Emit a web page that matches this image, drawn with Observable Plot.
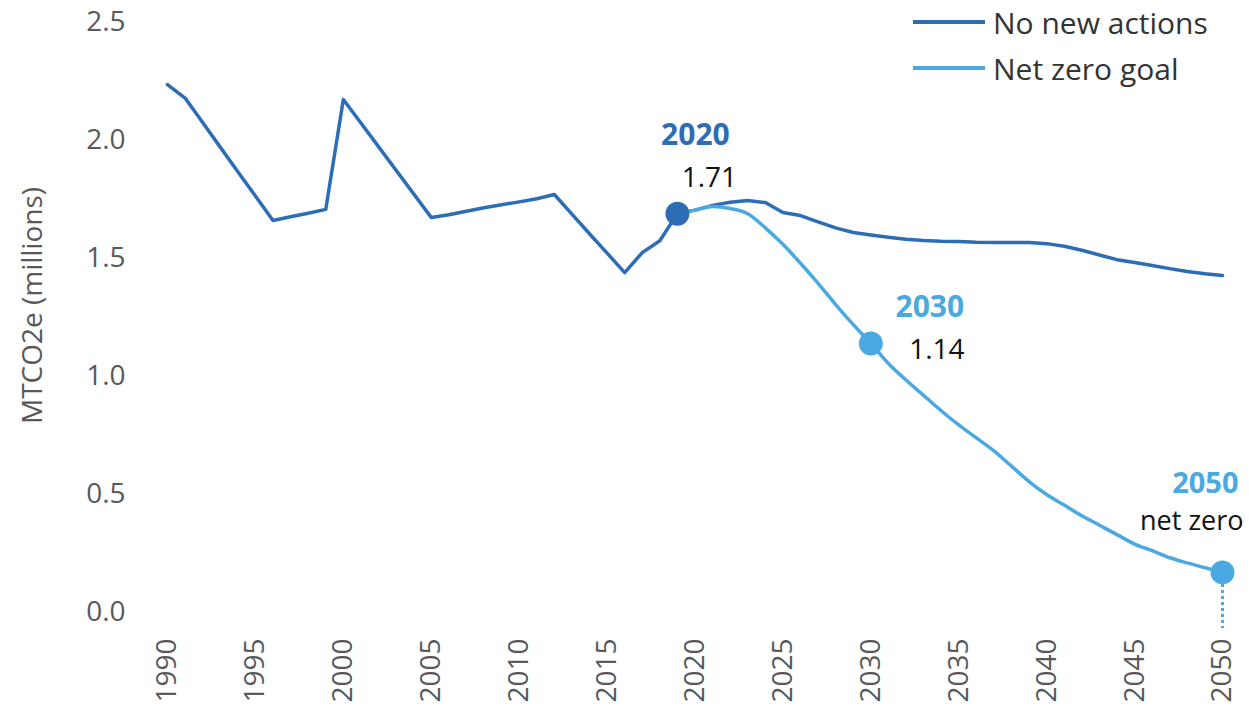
<!DOCTYPE html>
<html>
<head>
<meta charset="utf-8">
<script src="https://cdn.jsdelivr.net/npm/d3@7"></script>
<script src="https://cdn.jsdelivr.net/npm/@observablehq/plot@0.6"></script>
<style>
  body { margin: 0; background: #fff; font-family: "Open Sans", sans-serif; }
  #wrap { position: relative; width: 1249px; height: 711px; }
  .legend { position: absolute; left: 913px; font-size: 30px; color: #333; display: flex; align-items: center; }
  .legend span.sw { display: inline-block; width: 72px; height: 4px; margin-right: 8px; }
</style>
</head>
<body>
<div id="wrap"></div>
<script>
const darkBlue = "#2d6db5";
const lightBlue = "#4aa9e0";

const seriesNames = ["No new actions", "Net zero goal"];
const startNoNew = 1990;
const noNewValues = [
  2.237, 2.18, 2.076, 1.972, 1.868, 1.765, 1.661, 1.677, 1.692, 1.708,
  2.174, 2.074, 1.974, 1.874, 1.774, 1.674, 1.685, 1.70, 1.715, 1.728,
  1.74, 1.753, 1.771, 1.688, 1.605, 1.523, 1.44, 1.525, 1.575, 1.69,
  1.705, 1.725, 1.738, 1.746, 1.737, 1.695, 1.682, 1.655, 1.63, 1.61,
  1.60, 1.59, 1.582, 1.576, 1.573, 1.572, 1.569, 1.568, 1.568, 1.568,
  1.563, 1.552, 1.535, 1.515, 1.495, 1.483, 1.47, 1.457, 1.445, 1.435,
  1.428
];
const startNetZero = 2019;
const netZeroValues = [
  1.69, 1.705, 1.72, 1.712, 1.69, 1.63, 1.56, 1.48, 1.395, 1.305,
  1.22, 1.14, 1.055, 0.985, 0.92, 0.855, 0.795, 0.74, 0.685, 0.62,
  0.555, 0.50, 0.455, 0.41, 0.37, 0.33, 0.29, 0.262, 0.232, 0.21,
  0.19, 0.17
];
const xTicks = [1990, 1995, 2000, 2005, 2010, 2015, 2020, 2025, 2030, 2035, 2040, 2045, 2050];
const yTicks = [0, 0.5, 1.0, 1.5, 2.0, 2.5];

// highlighted points
const markerYears = [2019, 2030, 2050];
const markerTitles = ["2020", "2030", "2050"];
const markerNotes = ["1.71", "1.14", "net zero"];

const noNew = noNewValues.map((v, i) => ({year: startNoNew + i, value: v}));
const netZero = netZeroValues.map((v, i) => ({year: startNetZero + i, value: v}));
const valueAt = (arr, yr) => arr.find(d => d.year === yr).value;

const markers = [
  {year: markerYears[0], value: valueAt(noNew, markerYears[0]), color: darkBlue, title: markerTitles[0], note: markerNotes[0]},
  {year: markerYears[1], value: valueAt(netZero, markerYears[1]), color: lightBlue, title: markerTitles[1], note: markerNotes[1]},
  {year: markerYears[2], value: valueAt(netZero, markerYears[2]), color: lightBlue, title: markerTitles[2], note: markerNotes[2]}
];

const chart = Plot.plot({
  width: 1249,
  height: 711,
  marginLeft: 167,
  marginRight: 27,
  marginTop: 22,
  marginBottom: 99,
  style: {fontFamily: "'Open Sans', sans-serif", fontSize: "28px", color: "#595959", background: "#fff"},
  x: {domain: [1990, 2050]},
  y: {domain: [0, 2.5]},
  marks: [
    Plot.axisY({ticks: yTicks, tickFormat: d => d.toFixed(1), tickSize: 0, tickPadding: 42, label: null, fontSize: 28}),
    Plot.axisX({ticks: xTicks, tickFormat: d => String(d), tickRotate: -90, tickSize: 0, tickPadding: 26, label: null, fontSize: 28}),
    Plot.text(["MTCO2e (millions)"], {frameAnchor: "left", dx: -134, dy: -12, rotate: -90, fontSize: 28, fill: "#595959", textAnchor: "middle", lineAnchor: "middle"}),
    Plot.ruleX([markers[2]], {x: "year", y1: "value", y2: 0, insetBottom: -16, stroke: lightBlue, strokeWidth: 3, strokeDasharray: "3,3"}),
    Plot.line(noNew, {x: "year", y: "value", stroke: darkBlue, strokeWidth: 3.5, strokeLinejoin: "round"}),
    Plot.line(netZero, {x: "year", y: "value", stroke: lightBlue, strokeWidth: 3.5, strokeLinejoin: "round", curve: "monotone-x"}),
    Plot.dot(markers, {x: "year", y: "value", r: 12, fill: "color", stroke: "none"}),
    // 2020
    Plot.text([markers[0]], {x: "year", y: "value", text: "title", dx: 18, dy: -78, fill: darkBlue, fontWeight: "bold", fontSize: 30}),
    Plot.text([markers[0]], {x: "year", y: "value", text: "note", dx: 32, dy: -36, fill: "#111", fontSize: 28}),
    // 2030
    Plot.text([markers[1]], {x: "year", y: "value", text: "title", dx: 59, dy: -36, fill: lightBlue, fontWeight: "bold", fontSize: 30}),
    Plot.text([markers[1]], {x: "year", y: "value", text: "note", dx: 66, dy: 7, fill: "#111", fontSize: 28}),
    // 2050
    Plot.text([markers[2]], {x: "year", y: "value", text: "title", dx: 16, dy: -89, textAnchor: "end", fill: lightBlue, fontWeight: "bold", fontSize: 29}),
    Plot.text([markers[2]], {x: "year", y: "value", text: "note", dx: 21, dy: -51, textAnchor: "end", fill: "#111", fontSize: 27})
  ]
});

const wrap = document.getElementById("wrap");
wrap.appendChild(chart);
[[seriesNames[0], darkBlue, 22], [seriesNames[1], lightBlue, 68]].forEach(([name, col, cy]) => {
  const div = document.createElement("div");
  div.className = "legend";
  div.style.top = (cy - 20) + "px";
  div.style.height = "40px";
  div.innerHTML = `<span class="sw" style="background:${col}"></span><span>${name}</span>`;
  wrap.appendChild(div);
});
</script>
</body>
</html>
